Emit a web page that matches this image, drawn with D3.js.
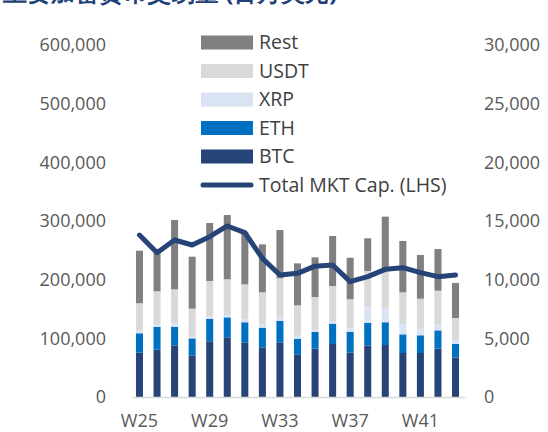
<!DOCTYPE html>
<html>
<head>
<meta charset="utf-8">
<script src="https://cdn.jsdelivr.net/npm/d3@7"></script>
<style>
  body { margin: 0; background: #fff; }
  text { font-family: "Open Sans", "Noto Sans", sans-serif; }
</style>
</head>
<body>
<script>
const weeks = ["W25","W26","W27","W28","W29","W30","W31","W32","W33","W34","W35","W36","W37","W38","W39","W40","W41","W42","W43"];
const tickWeeks = ["W25","W29","W33","W37","W41"];

// weekly volume by coin (RHS)
const btc  = [3780, 4030, 4400, 3550, 4750, 5090, 4660, 4230, 4660, 3640, 4120, 4520, 3780, 4400, 4430, 3750, 3750, 4120, 3350];
const eth  = [1650, 1940, 1590, 1450, 1900, 1700, 1710, 1680, 1840, 1330, 1420, 1730, 1790, 1930, 1940, 1590, 1510, 1560, 1190];
const xrp  = [ 280,  250,  290,  140,  230,  200,  280,  280,  290,  250,  260,  230,  280, 1370, 1160,  880,  540,  540,  290];
const usdt = [2280, 2790, 2900, 2390, 3010, 3040, 2950, 2730, 3330, 2590, 2720, 2980, 2480, 3040, 3290, 2700, 2580, 2840, 1900];
const rest = [4480, 3240, 5910, 4430, 4940, 5480, 4490, 4090, 4110, 3580, 3380, 4260, 3540, 2790, 4550, 4380, 3720, 3550, 2990];

// total market cap (LHS)
const totalCap = [276000, 246000, 267600, 259100, 273300, 291500, 280100, 236400, 208000, 210800, 223000, 225000, 196600, 205100, 217600, 220400, 211900, 205100, 208000];

const series = ["BTC","ETH","XRP","USDT","Rest"];
const colors = {BTC: "#264478", ETH: "#0070C0", XRP: "#DAE3F3", USDT: "#D9D9D9", Rest: "#808080"};
const lineColor = "#264478";

const leftTicks = [0, 100000, 200000, 300000, 400000, 500000, 600000];
const rightTicks = [0, 5000, 10000, 15000, 20000, 25000, 30000];

const table = weeks.map((w, i) => ({
  week: w, BTC: btc[i], ETH: eth[i], XRP: xrp[i], USDT: usdt[i], Rest: rest[i], cap: totalCap[i]
}));

const svg = d3.select("body").append("svg")
  .attr("width", 548)
  .attr("height", 432);

// title (cut off at the top edge in the original)
svg.append("text")
  .attr("x", 3)
  .attr("y", 1)
  .attr("font-family", "'Noto Sans CJK SC', sans-serif")
  .attr("font-weight", "bold")
  .attr("font-size", 24)
  .attr("fill", "#1F3F77")
  .text("主要加密货币交易量 (百万美元)");

const x = d3.scaleBand()
  .domain(weeks)
  .range([130.7, 464.3])
  .paddingInner(0.6)
  .paddingOuter(0.3);

const yL = d3.scaleLinear().domain([0, 600000]).range([397, 45]);
const yR = d3.scaleLinear().domain([0, 30000]).range([397, 45]);

// left axis
const leftAxis = svg.append("g")
  .attr("transform", "translate(106,0)")
  .call(d3.axisLeft(yL).tickValues(leftTicks).tickSize(0).tickPadding(0).tickFormat(d3.format(",")));
leftAxis.select(".domain").remove();
leftAxis.selectAll("text")
  .attr("font-size", 18)
  .attr("fill", "#595959")
  .style("font-family", "'Open Sans', sans-serif");

// right axis
const rightAxis = svg.append("g")
  .attr("transform", "translate(484,0)")
  .call(d3.axisRight(yR).tickValues(rightTicks).tickSize(0).tickPadding(0).tickFormat(d3.format(",")));
rightAxis.select(".domain").remove();
rightAxis.selectAll("text")
  .attr("font-size", 18)
  .attr("fill", "#595959")
  .style("font-family", "'Open Sans', sans-serif");

// stacked bars
const stack = d3.stack().keys(series)(table);

svg.append("g")
  .selectAll("g")
  .data(stack)
  .join("g")
  .attr("fill", d => colors[d.key])
  .selectAll("rect")
  .data(d => d)
  .join("rect")
  .attr("x", d => x(d.data.week))
  .attr("width", x.bandwidth())
  .attr("y", d => yR(d[1]))
  .attr("height", d => yR(d[0]) - yR(d[1]));

// baseline
svg.append("line")
  .attr("x1", x.range()[0] + 2)
  .attr("x2", x.range()[1] + 1)
  .attr("y1", yR(0) + 0.5)
  .attr("y2", yR(0) + 0.5)
  .attr("stroke", "#D9D9D9")
  .attr("stroke-width", 1.5);

// x axis labels
const xAxis = svg.append("g")
  .attr("transform", "translate(0,414)")
  .call(d3.axisBottom(x).tickValues(tickWeeks).tickSize(0).tickPadding(0));
xAxis.select(".domain").remove();
xAxis.selectAll("text")
  .attr("font-size", 18)
  .attr("fill", "#595959")
  .style("font-family", "'Open Sans', sans-serif");

// total market cap line
const line = d3.line()
  .x(d => x(d.week) + x.bandwidth() / 2)
  .y(d => yL(d.cap));

svg.append("path")
  .datum(table)
  .attr("d", line)
  .attr("fill", "none")
  .attr("stroke", lineColor)
  .attr("stroke-width", 5)
  .attr("stroke-linejoin", "round")
  .attr("stroke-linecap", "round");

// legend
const legendItems = ["Rest", "USDT", "XRP", "ETH", "BTC"];
const legend = svg.append("g").attr("transform", "translate(201,0)");

legendItems.forEach((k, i) => {
  const cy = 42.5 + i * 28.5;
  legend.append("rect")
    .attr("x", 0).attr("y", cy - 7)
    .attr("width", 52).attr("height", 14)
    .attr("fill", colors[k]);
  legend.append("text")
    .attr("x", 58).attr("y", cy)
    .attr("dy", "0.35em")
    .attr("font-size", 19.5)
    .attr("fill", "#404040")
    .text(k);
});

const ly = 42.5 + 5 * 28.5;
legend.append("line")
  .attr("x1", 2).attr("x2", 50)
  .attr("y1", ly).attr("y2", ly)
  .attr("stroke", lineColor)
  .attr("stroke-width", 5)
  .attr("stroke-linecap", "round");
legend.append("text")
  .attr("x", 58).attr("y", ly)
  .attr("dy", "0.35em")
  .attr("font-size", 19.5)
  .attr("fill", "#404040")
  .text("Total MKT Cap. (LHS)");
</script>
</body>
</html>
